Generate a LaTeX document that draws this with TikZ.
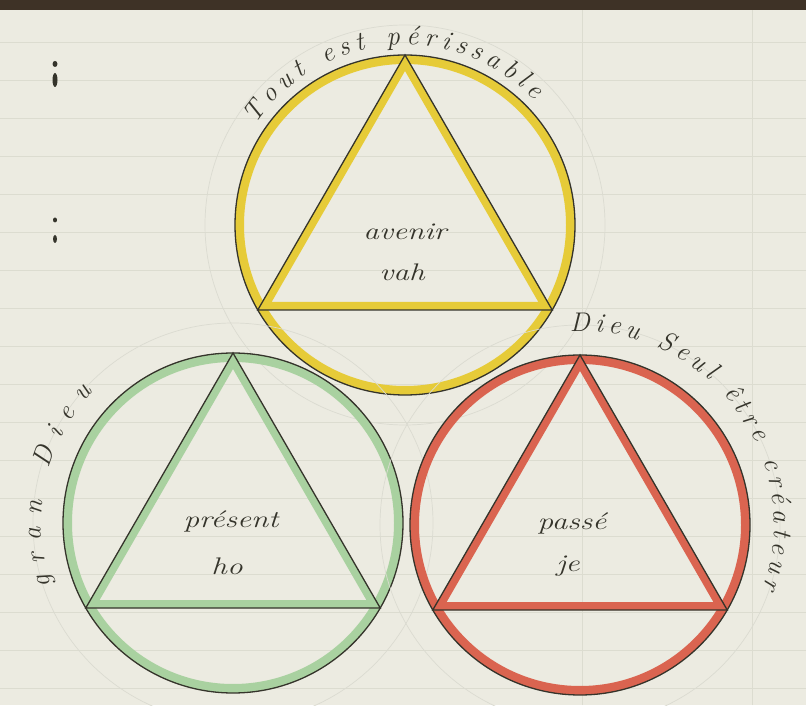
\documentclass[tikz,border=0pt]{standalone}
\usetikzlibrary{decorations.text,calc}
\definecolor{paper}{HTML}{ECEBE1}
\definecolor{ruleline}{HTML}{DCDCD0}
\definecolor{topband}{HTML}{3E3226}
\definecolor{inkc}{HTML}{35342B}
\definecolor{pencilc}{HTML}{DBDBD1}
\definecolor{yband}{HTML}{E6CB38}
\definecolor{gband}{HTML}{A9D1A0}
\definecolor{rband}{HTML}{DA6450}
\newcommand{\hand}{\itshape\fontsize{24}{28}\selectfont}
\newcommand{\curvehand}{\itshape\fontsize{27}{30}\selectfont}
\tikzset{
  ink/.style={draw=inkc, line width=1.3},
  pencil/.style={draw=pencilc, line width=0.7},
  lbl/.style={text=inkc, font=\hand, inner sep=1pt},
  curvetext/.style={decorate, decoration={text along path, text align=fit to path, text={#1}}}
}
\begin{document}
\begin{tikzpicture}[x=1pt,y=1pt]
\fill[paper] (0,0) rectangle (806,705);
\useasboundingbox (0,0) rectangle (806,705);
% ruled lines
\foreach \py in {42,80,118,156,194,232,270,308,346,384,422,460,498,536,574,612,650,688}
  \draw[ruleline, line width=0.7] (0,705-\py) -- (806,705-\py);
\draw[ruleline, line width=0.5] (582,0) -- (582,695);
\draw[ruleline, line width=0.5] (752,0) -- (752,695);
% top band
\fill[topband] (0,695) rectangle (806,705);
% ink marks
\fill[inkc] (55,641) ellipse (2.5 and 3);
\fill[inkc] (55,625) ellipse (2.5 and 7);
\fill[inkc] (55,485) ellipse (2 and 2.5);
\fill[inkc] (55,466) ellipse (2 and 4);
% circles with triangles
\foreach \n/\cx/\cy/\col in {Y/405/480/yband, G/233/182/gband, R/580/180/rband}{
  \coordinate (\n) at (\cx,\cy);
  \draw[pencil] (\n) circle[radius=200];
  \draw[\col, line width=9] (\n) circle[radius=165.5];
  \draw[ink] (\n) circle[radius=170];
  \draw[\col, line width=8, line join=miter] ($(\n)+(90:162)$) -- ($(\n)+(210:162)$) -- ($(\n)+(330:162)$) -- cycle;
  \draw[ink, line join=miter] ($(\n)+(90:170)$) -- ($(\n)+(210:170)$) -- ($(\n)+(330:170)$) -- cycle;
}
% labels inside
\node[lbl] (avenir) at (405,473) {\scalebox{1.3}[1]{avenir}};
\node[lbl] (vah) at (402,433) {\scalebox{1.3}[1]{vah}};
\node[lbl] (present) at (231,184) {\scalebox{1.3}[1]{présent}};
\node[lbl] (ho) at (227,139) {\scalebox{1.3}[1]{ho}};
\node[lbl] (passe) at (572,182) {\scalebox{1.3}[1]{passé}};
\node[lbl] (je) at (568,139) {\scalebox{1.3}[1]{je}};
% curved texts
\path[curvetext={|\curvehand\color{inkc}|Tout est périssable}]
  ($(Y)+(146:180)$) arc[start angle=146, end angle=44, radius=180];
\path[curvetext={|\curvehand\color{inkc}|Dieu Seul être créateur}]
  ($(R)+(93:194)$) arc[start angle=93, end angle=-19, radius=194];
\path[curvetext={|\curvehand\color{inkc}|gran Dieu}]
  ($(G)+(199:192)$) arc[start angle=199, end angle=137, radius=192];
\end{tikzpicture}
\end{document}
